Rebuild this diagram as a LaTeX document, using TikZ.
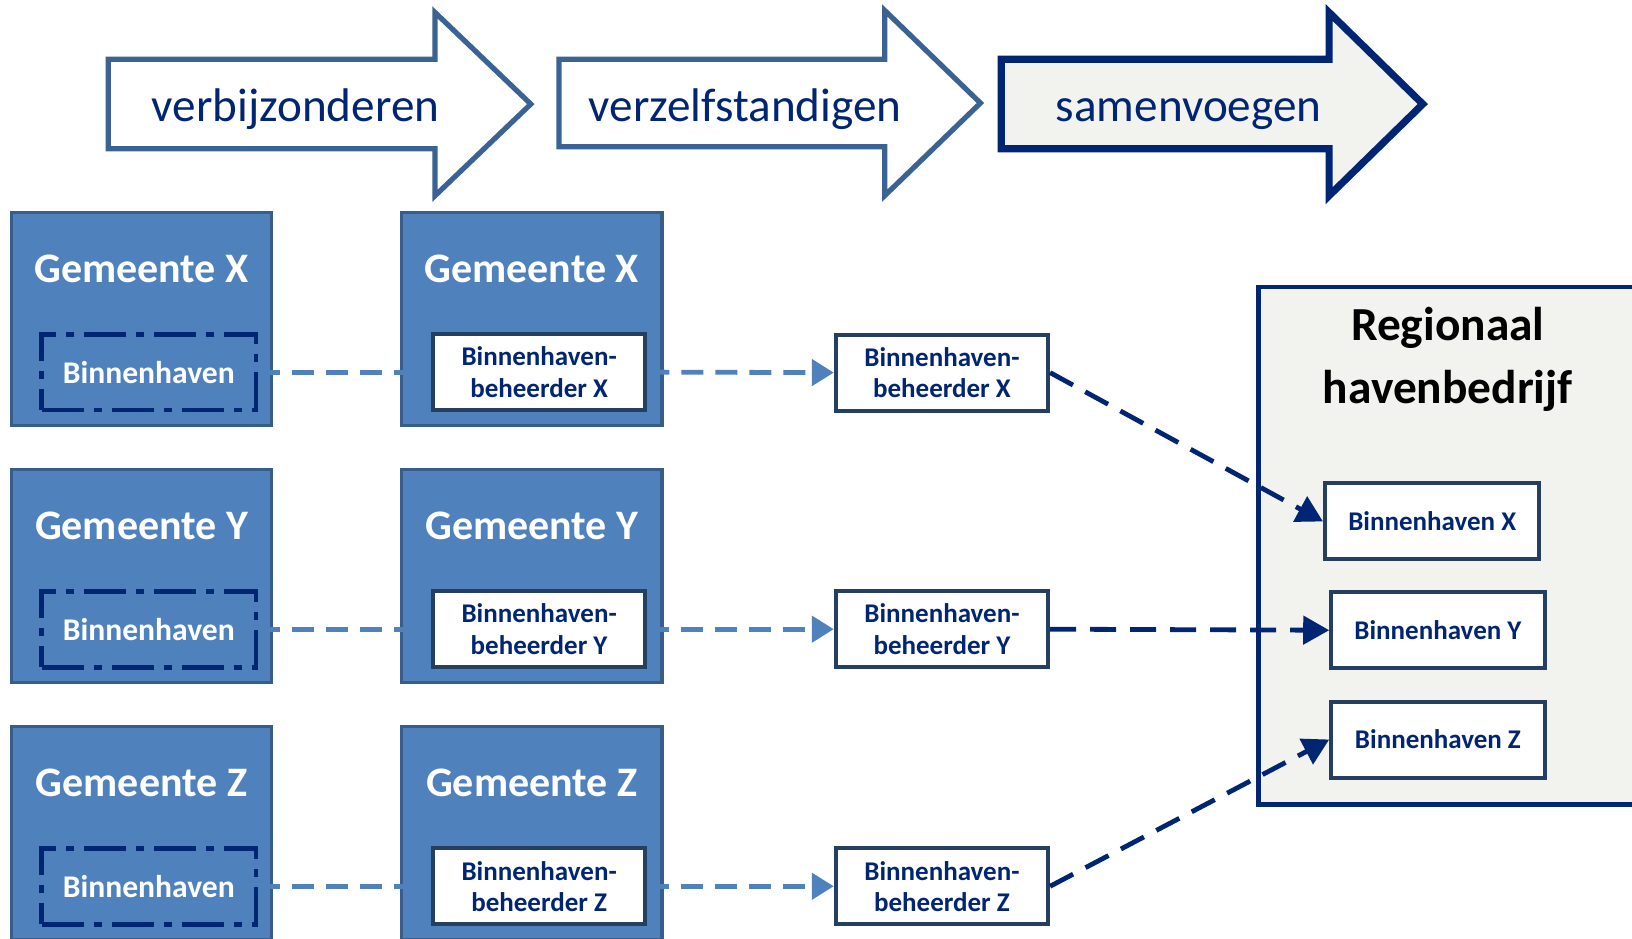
\documentclass[tikz,border=0pt]{standalone}
\usepackage{fontspec}
\setmainfont{Carlito}
\usetikzlibrary{arrows.meta}
\definecolor{gfill}{HTML}{4F81BD}
\definecolor{gline}{HTML}{385D8A}
\definecolor{navy}{HTML}{002673}
\definecolor{boxline}{HTML}{243F60}
\definecolor{arrline}{HTML}{3A6394}
\definecolor{pale}{HTML}{F2F3EE}
\newcommand\PX[1]{#1*0.5204pt}
\tikzset{
  gem/.style={draw=gline, fill=gfill, line width=1.6pt, minimum width=\PX{250}, minimum height=\PX{205}, inner sep=0pt},
  gemtitle/.style={text=white, font=\bfseries\fontsize{21}{25}\selectfont, anchor=base},
  dashbox/.style={draw=navy, line width=2.4pt, dash pattern=on 21pt off 5pt on 4pt off 5pt, minimum width=\PX{206}, minimum height=\PX{73}, inner sep=0pt, text=white, font=\bfseries\fontsize{15.8}{19}\selectfont},
  whitebox/.style={draw=boxline, fill=white, line width=2pt, minimum width=\PX{204}, minimum height=\PX{73}, inner sep=0pt, text=navy, font=\bfseries\fontsize{13.5}{15.6}\selectfont, align=center},
  lightconn/.style={draw=gfill, line width=2.4pt, dash pattern=on 11pt off 6pt, -{Triangle[length=11pt,width=13pt]}},
  darkconn/.style={draw=navy, line width=2.4pt, dash pattern=on 13pt off 7pt, -{Triangle[length=13pt,width=14pt]}},
  stage/.style={line width=2.6pt, draw=arrline, fill=white, line join=miter},
  stagelast/.style={line width=3.6pt, draw=navy, fill=pale, line join=miter},
  stagetext/.style={text=navy, font=\fontsize{23.6}{28}\selectfont, anchor=base},
  regbox/.style={draw=navy, fill=pale, line width=2.2pt, minimum width=\PX{391}, minimum height=\PX{497}, inner sep=0pt},
  regtitle/.style={text=black, font=\bfseries\fontsize{23.7}{31.7}\selectfont, align=center},
}
\begin{document}
\begin{tikzpicture}[x=0.5204pt,y=-0.5204pt]
\useasboundingbox (0,0) rectangle (1568,902);
\clip (0,0) rectangle (1568,902);

% stage arrows
\draw[stage] (104,57) -- (418,57) -- (418,12) -- (510,100) -- (418,188) -- (418,143) -- (104,143) -- cycle;
\node[stagetext] (s1) at (284,117) {verbijzonderen};
\draw[stage] (537,57) -- (850,57) -- (850,10) -- (942,99) -- (850,188) -- (850,141) -- (537,141) -- cycle;
\node[stagetext] (s2) at (716,117) {verzelfstandigen};
\draw[stagelast] (962,57) -- (1277,57) -- (1277,12) -- (1367,100) -- (1277,188) -- (1277,143) -- (962,143) -- cycle;
\node[stagetext] (s3) at (1142,117) {samenvoegen};

% left column
\node[gem] (gl1) at (136,306.5) {};
\node[gem] (gl2) at (136,553.5) {};
\node[gem] (gl3) at (136,800.5) {};
\node[gemtitle] (tl1) at (136,271) {Gemeente X};
\node[gemtitle] (tl2) at (136,518) {Gemeente Y};
\node[gemtitle] (tl3) at (136,765) {Gemeente Z};
\node[dashbox] (d1) at (143,357.5) {Binnenhaven};
\node[dashbox] (d2) at (143,604.5) {Binnenhaven};
\node[dashbox] (d3) at (143,851.5) {Binnenhaven};

% middle column
\node[gem] (gm1) at (511,306.5) {};
\node[gem] (gm2) at (511,553.5) {};
\node[gem] (gm3) at (511,800.5) {};
\node[gemtitle] (tm1) at (511,271) {Gemeente X};
\node[gemtitle] (tm2) at (511,518) {Gemeente Y};
\node[gemtitle] (tm3) at (511,765) {Gemeente Z};
\node[whitebox] (m1) at (518,357.5) {Binnenhaven-\\beheerder X};
\node[whitebox] (m2) at (518,604.5) {Binnenhaven-\\beheerder Y};
\node[whitebox] (m3) at (518,851.5) {Binnenhaven-\\beheerder Z};

% right column
\node[whitebox] (r1) at (905,358) {Binnenhaven-\\beheerder X};
\node[whitebox] (r2) at (905,604.5) {Binnenhaven-\\beheerder Y};
\node[whitebox] (r3) at (905,851.5) {Binnenhaven-\\beheerder Z};

% regional
\node[regbox] (reg) at (1404.5,524.5) {};
\node[regtitle] (regt) at (1391,345) {Regionaal\\havenbedrijf};
\node[whitebox, minimum width=\PX{206}] (bx) at (1376,501) {Binnenhaven X};
\node[whitebox, minimum width=\PX{205}] (by) at (1381.5,605.5) {Binnenhaven Y};
\node[whitebox, minimum width=\PX{205}] (bz) at (1381.5,710.5) {Binnenhaven Z};

% connectors
\draw[lightconn] (d1.east) -- (m1.west);
\draw[lightconn] (d2.east) -- (m2.west);
\draw[lightconn] (d3.east) -- (m3.west);
\draw[lightconn] (m1.east) -- (r1.west);
\draw[lightconn] (m2.east) -- (r2.west);
\draw[lightconn] (m3.east) -- (r3.west);
\draw[darkconn] (r1.east) -- (bx.west);
\draw[darkconn] (r2.east) -- (by.west);
\draw[darkconn] (r3.east) -- (bz.west);
\end{tikzpicture}
\end{document}
